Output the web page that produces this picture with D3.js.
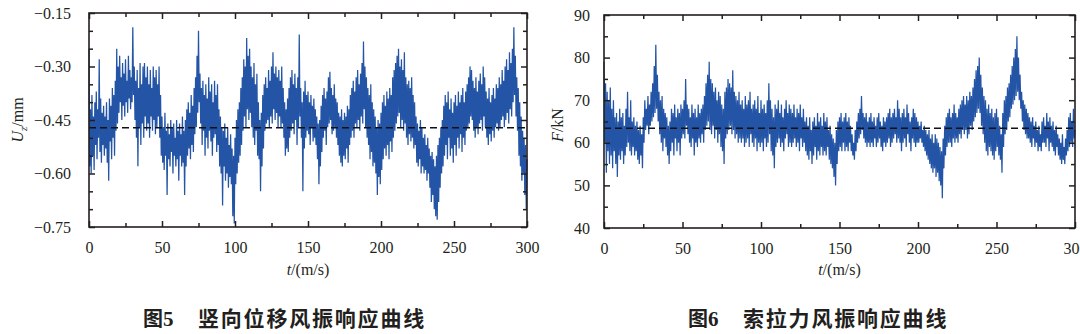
<!DOCTYPE html>
<html>
<head>
<meta charset="utf-8">
<script src="https://cdn.jsdelivr.net/npm/d3@7"></script>
<style>
  html, body { margin: 0; padding: 0; background: #fff; }
  svg { display: block; }
</style>
</head>
<body>
<svg id="fig" width="1080" height="334"></svg>
<script>
// Sampling interval of both records (s)
const dt = 0.5;

// Vertical displacement U_z (mm), two samples per second, t = 0 … 300 s
const dispU = [
  -0.25,-0.58, -0.42,-0.60, -0.38,-0.55, -0.44,-0.59, -0.40,-0.52, -0.37,-0.56, -0.42,-0.50, -0.28,-0.54, -0.39,-0.57, -0.43,-0.52,
  -0.41,-0.55, -0.44,-0.53, -0.40,-0.57, -0.45,-0.62, -0.39,-0.51, -0.41,-0.56, -0.36,-0.50, -0.38,-0.55, -0.34,-0.48, -0.25,-0.46,
  -0.30,-0.43, -0.27,-0.40, -0.33,-0.45, -0.29,-0.41, -0.32,-0.44, -0.28,-0.40, -0.34,-0.43, -0.27,-0.39, -0.31,-0.42, -0.33,-0.40,
  -0.19,-0.38, -0.30,-0.45, -0.34,-0.50, -0.31,-0.58, -0.36,-0.47, -0.29,-0.52, -0.35,-0.46, -0.30,-0.50, -0.29,-0.44, -0.33,-0.48,
  -0.30,-0.46, -0.35,-0.50, -0.31,-0.44, -0.36,-0.48, -0.30,-0.45, -0.33,-0.49, -0.31,-0.47, -0.35,-0.44, -0.30,-0.50, -0.38,-0.55,
  -0.44,-0.57, -0.47,-0.59, -0.43,-0.55, -0.48,-0.66, -0.46,-0.56, -0.49,-0.58, -0.45,-0.54, -0.47,-0.60, -0.46,-0.55, -0.50,-0.58,
  -0.45,-0.56, -0.48,-0.62, -0.46,-0.55, -0.49,-0.58, -0.44,-0.57, -0.48,-0.66, -0.45,-0.58, -0.42,-0.55, -0.40,-0.53, -0.43,-0.56,
  -0.38,-0.52, -0.41,-0.54, -0.36,-0.49, -0.33,-0.47, -0.27,-0.43, -0.20,-0.40, -0.32,-0.46, -0.36,-0.52, -0.34,-0.48, -0.38,-0.55,
  -0.35,-0.50, -0.39,-0.53, -0.33,-0.48, -0.37,-0.51, -0.35,-0.55, -0.40,-0.50, -0.34,-0.49, -0.38,-0.54, -0.35,-0.52, -0.42,-0.58,
  -0.44,-0.60, -0.47,-0.69, -0.48,-0.58, -0.46,-0.62, -0.50,-0.60, -0.47,-0.64, -0.52,-0.61, -0.49,-0.63, -0.53,-0.72, -0.55,-0.74,
  -0.50,-0.63, -0.45,-0.60, -0.42,-0.57, -0.40,-0.55, -0.36,-0.52, -0.33,-0.48, -0.28,-0.44, -0.30,-0.47, -0.22,-0.42, -0.27,-0.45,
  -0.25,-0.43, -0.30,-0.47, -0.33,-0.50, -0.29,-0.52, -0.35,-0.48, -0.32,-0.55, -0.40,-0.56, -0.45,-0.65, -0.43,-0.58, -0.38,-0.53,
  -0.35,-0.48, -0.33,-0.46, -0.36,-0.45, -0.31,-0.47, -0.34,-0.44, -0.30,-0.46, -0.26,-0.42, -0.32,-0.45, -0.30,-0.43, -0.33,-0.47,
  -0.31,-0.44, -0.34,-0.47, -0.30,-0.46, -0.36,-0.50, -0.40,-0.55, -0.42,-0.53, -0.39,-0.54, -0.36,-0.50, -0.33,-0.48, -0.31,-0.46,
  -0.35,-0.49, -0.32,-0.45, -0.36,-0.52, -0.33,-0.47, -0.21,-0.44, -0.36,-0.50, -0.40,-0.65, -0.37,-0.53, -0.34,-0.50, -0.38,-0.48,
  -0.37,-0.49, -0.40,-0.52, -0.38,-0.47, -0.41,-0.51, -0.39,-0.50, -0.42,-0.52, -0.44,-0.56, -0.46,-0.63, -0.45,-0.58, -0.41,-0.54,
  -0.38,-0.50, -0.36,-0.48, -0.39,-0.52, -0.37,-0.47, -0.33,-0.46, -0.315,-0.45, -0.36,-0.49, -0.38,-0.48, -0.35,-0.47, -0.39,-0.50,
  -0.40,-0.52, -0.43,-0.55, -0.44,-0.57, -0.42,-0.58, -0.45,-0.55, -0.43,-0.56, -0.44,-0.53, -0.41,-0.57, -0.42,-0.52, -0.38,-0.50,
  -0.36,-0.48, -0.34,-0.50, -0.37,-0.46, -0.33,-0.47, -0.31,-0.45, -0.35,-0.48, -0.32,-0.44, -0.29,-0.46, -0.23,-0.42, -0.30,-0.47,
  -0.33,-0.50, -0.36,-0.52, -0.38,-0.56, -0.35,-0.54, -0.40,-0.58, -0.42,-0.57, -0.44,-0.60, -0.47,-0.66, -0.45,-0.61, -0.46,-0.63,
  -0.43,-0.59, -0.40,-0.56, -0.38,-0.53, -0.41,-0.55, -0.37,-0.52, -0.39,-0.56, -0.36,-0.51, -0.38,-0.54, -0.33,-0.50, -0.31,-0.48,
  -0.29,-0.46, -0.27,-0.44, -0.25,-0.43, -0.30,-0.47, -0.28,-0.45, -0.31,-0.48, -0.26,-0.46, -0.33,-0.50, -0.35,-0.52, -0.34,-0.49,
  -0.36,-0.51, -0.33,-0.50, -0.38,-0.53, -0.40,-0.52, -0.44,-0.57, -0.46,-0.58, -0.48,-0.56, -0.45,-0.60, -0.47,-0.58, -0.50,-0.60,
  -0.49,-0.59, -0.52,-0.62, -0.50,-0.60, -0.53,-0.64, -0.55,-0.68, -0.54,-0.66, -0.56,-0.70, -0.58,-0.72, -0.55,-0.73, -0.52,-0.68,
  -0.50,-0.64, -0.47,-0.60, -0.45,-0.58, -0.41,-0.55, -0.38,-0.52, -0.40,-0.56, -0.37,-0.50, -0.42,-0.55, -0.39,-0.53, -0.43,-0.57,
  -0.40,-0.52, -0.38,-0.55, -0.41,-0.50, -0.37,-0.53, -0.40,-0.49, -0.38,-0.54, -0.36,-0.50, -0.40,-0.52, -0.37,-0.48, -0.35,-0.47,
  -0.33,-0.46, -0.30,-0.44, -0.31,-0.45, -0.34,-0.48, -0.36,-0.50, -0.33,-0.47, -0.37,-0.49, -0.34,-0.46, -0.32,-0.45, -0.35,-0.48,
  -0.30,-0.44, -0.33,-0.47, -0.37,-0.50, -0.39,-0.52, -0.36,-0.49, -0.40,-0.51, -0.38,-0.48, -0.36,-0.50, -0.39,-0.47, -0.35,-0.46,
  -0.36,-0.48, -0.33,-0.47, -0.35,-0.45, -0.31,-0.44, -0.34,-0.47, -0.30,-0.45, -0.28,-0.43, -0.31,-0.46, -0.26,-0.42, -0.29,-0.44,
  -0.25,-0.40, -0.19,-0.38, -0.27,-0.44, -0.33,-0.48, -0.36,-0.55, -0.40,-0.58, -0.44,-0.62, -0.48,-0.60, -0.50,-0.66, -0.52,-0.70,
  -0.56
];

// Cable tension F (kN), two samples per second, t = 0 … 300 s
const forceF = [
  79,60, 74,53, 72,58, 70,55, 73,57, 68,54, 70,58, 66,55, 67,52, 65,57,
  68,56, 66,58, 67,55, 64,57, 68,59, 72,60, 66,58, 70,57, 65,59, 66,57,
  64,58, 65,56, 63,55, 64,57, 62,54, 66,60, 70,63, 68,64, 71,62, 69,64,
  72,65, 74,66, 78,67, 83,68, 76,65, 72,62, 70,60, 71,58, 68,61, 67,59,
  66,57, 64,55, 65,58, 68,60, 67,57, 69,61, 66,58, 68,60, 67,57, 69,61,
  68,62, 70,61, 75,64, 69,62, 68,60, 66,59, 69,61, 67,57, 68,60, 66,59,
  69,61, 67,60, 68,62, 69,60, 71,63, 74,64, 76,65, 79,63, 75,62, 74,64,
  72,61, 73,63, 70,60, 72,62, 71,59, 69,58, 68,55, 72,61, 73,62, 75,63,
  74,64, 73,62, 77,63, 72,61, 71,62, 70,60, 72,61, 69,60, 70,61, 68,59,
  71,60, 69,61, 70,59, 72,62, 68,60, 69,59, 70,61, 68,58, 71,60, 67,59,
  70,60, 68,58, 69,61, 67,59, 70,60, 74,62, 70,58, 68,57, 66,54, 69,59,
  68,60, 70,61, 67,59, 69,60, 66,58, 68,61, 70,62, 67,59, 69,60, 68,59,
  67,60, 69,61, 66,59, 68,60, 67,58, 69,61, 66,59, 68,60, 65,58, 66,57,
  64,56, 66,58, 63,55, 65,57, 66,59, 64,56, 67,58, 65,57, 66,59, 64,57,
  67,58, 65,57, 66,59, 63,56, 64,55, 62,54, 61,52, 60,50, 63,55, 65,58,
  66,59, 67,58, 65,60, 66,58, 67,59, 65,58, 66,60, 64,58, 62,57, 60,56,
  63,58, 65,60, 67,61, 68,62, 71,63, 67,61, 66,60, 67,59, 65,60, 66,59,
  67,60, 65,59, 66,61, 64,59, 66,60, 67,61, 65,59, 64,58, 66,60, 65,59,
  66,60, 67,61, 68,59, 66,60, 67,61, 68,62, 66,60, 70,61, 68,60, 66,58,
  67,60, 68,61, 66,59, 69,62, 67,60, 65,58, 66,61, 68,60, 67,59, 66,60,
  65,60, 64,61, 65,60, 63,59, 64,58, 63,57, 62,56, 63,55, 61,54, 62,53,
  60,54, 62,52, 61,53, 60,51, 59,50, 58,47, 61,54, 64,57, 66,59, 67,60,
  68,60, 66,59, 67,61, 69,60, 67,61, 66,60, 68,62, 69,61, 70,63, 71,62,
  69,63, 71,61, 70,62, 72,64, 71,63, 73,65, 75,66, 77,67, 78,68, 80,67,
  76,64, 73,62, 71,60, 70,58, 68,57, 69,59, 67,58, 68,57, 66,56, 67,58,
  68,59, 66,57, 64,56, 62,53, 67,59, 70,62, 71,63, 73,65, 74,66, 76,68,
  78,69, 80,70, 82,71, 85,72, 80,70, 76,68, 72,65, 70,63, 69,62, 68,61,
  67,61, 66,60, 65,59, 66,61, 64,59, 65,60, 63,58, 64,59, 62,58, 65,60,
  66,60, 64,59, 67,61, 65,58, 66,60, 64,59, 65,58, 63,57, 64,59, 62,57,
  61,56, 60,55, 62,56, 59,55, 61,57, 63,58, 66,59, 67,60, 65,59, 68,61,
  63
];

// Mean levels (dashed reference lines)
const meanU = -0.472;
const meanF = 63.4;

// Axis ticks
const timeTicks = [0, 50, 100, 150, 200, 250, 300];
const timeMinorTicks = [25, 75, 125, 175, 225, 275];
const uTicks = [-0.15, -0.30, -0.45, -0.60, -0.75];
const uMinorTicks = [-0.20, -0.25, -0.35, -0.40, -0.50, -0.55, -0.65, -0.70];
const fTicks = [40, 50, 60, 70, 80, 90];
const fMinorTicks = [45, 55, 65, 75, 85];

const svg = d3.select("#fig");
const serif = "'Liberation Serif', 'DejaVu Serif', serif";
const cjk = "'Noto Sans CJK SC', sans-serif";
const ink = "#231f20";
const lineBlue = "#2354a6";

function drawPanel(cfg) {
  const { left, right, top, bottom } = cfg.box;
  const x = d3.scaleLinear().domain([0, 300]).range([left, right]);
  const y = d3.scaleLinear().domain(cfg.yDomain).range([bottom, top]);
  const g = svg.append("g");

  // response trace
  const line = d3.line()
    .x((d, i) => x(i * dt))
    .y(d => y(d));
  g.append("path")
    .datum(cfg.values)
    .attr("d", line)
    .attr("fill", "none")
    .attr("stroke", lineBlue)
    .attr("stroke-width", 1.25)
    .attr("stroke-linejoin", "bevel");

  // mean level
  g.append("line")
    .attr("x1", left).attr("x2", right)
    .attr("y1", y(cfg.mean)).attr("y2", y(cfg.mean))
    .attr("stroke", "#111")
    .attr("stroke-width", 1.5)
    .attr("stroke-dasharray", "7,4");

  // inward ticks on all four sides
  const styleAxis = sel => {
    sel.select(".domain").remove();
    sel.selectAll(".tick line").attr("stroke", ink).attr("stroke-width", 1.5);
    sel.selectAll(".tick text")
      .attr("fill", ink)
      .style("font-family", serif)
      .style("font-size", "16px");
  };

  g.append("g").attr("transform", `translate(0,${bottom})`)
    .call(d3.axisBottom(x).tickValues(timeTicks).tickSize(-6).tickPadding(15).tickFormat(d3.format("d")))
    .call(styleAxis);
  g.append("g").attr("transform", `translate(0,${bottom})`)
    .call(d3.axisBottom(x).tickValues(timeMinorTicks).tickSize(-4).tickFormat(""))
    .call(styleAxis);
  g.append("g").attr("transform", `translate(0,${top})`)
    .call(d3.axisTop(x).tickValues(timeTicks).tickSize(-6).tickFormat(""))
    .call(styleAxis);
  g.append("g").attr("transform", `translate(0,${top})`)
    .call(d3.axisTop(x).tickValues(timeMinorTicks).tickSize(-4).tickFormat(""))
    .call(styleAxis);

  g.append("g").attr("transform", `translate(${left},0)`)
    .call(d3.axisLeft(y).tickValues(cfg.yTicks).tickSize(-6).tickPadding(cfg.yPad).tickFormat(cfg.yFormat))
    .call(styleAxis);
  g.append("g").attr("transform", `translate(${left},0)`)
    .call(d3.axisLeft(y).tickValues(cfg.yMinor).tickSize(-4).tickFormat(""))
    .call(styleAxis);
  g.append("g").attr("transform", `translate(${right},0)`)
    .call(d3.axisRight(y).tickValues(cfg.yTicks).tickSize(-6).tickFormat(""))
    .call(styleAxis);
  g.append("g").attr("transform", `translate(${right},0)`)
    .call(d3.axisRight(y).tickValues(cfg.yMinor).tickSize(-4).tickFormat(""))
    .call(styleAxis);

  // frame
  g.append("rect")
    .attr("x", left).attr("y", top)
    .attr("width", right - left).attr("height", bottom - top)
    .attr("fill", "none")
    .attr("stroke", ink)
    .attr("stroke-width", 1.6);

  // x title: t/(m/s)
  const xt = g.append("text")
    .attr("x", (left + right) / 2).attr("y", 275)
    .attr("text-anchor", "middle")
    .attr("fill", ink)
    .style("font-family", serif).style("font-size", "16px");
  xt.append("tspan").attr("font-style", "italic").text("t");
  xt.append("tspan").text("/(m/s)");

  // y title
  const yt = g.append("text")
    .attr("transform", `translate(${cfg.yTitleX},${cfg.yTitleY}) rotate(-90)`)
    .attr("text-anchor", "middle")
    .attr("fill", ink)
    .style("font-family", serif).style("font-size", "16px");
  cfg.yTitle(yt);

  // caption
  const cap = svg.append("text")
    .attr("y", 326)
    .attr("fill", ink)
    .style("font-weight", "bold");
  cap.append("tspan").attr("x", cfg.capX)
    .style("font-family", cjk).style("font-size", "20px").text("图");
  cap.append("tspan")
    .style("font-family", serif).style("font-size", "21px").text(cfg.figNo);
  cap.append("tspan").attr("x", cfg.capX + 55)
    .style("font-family", cjk).style("font-size", "21px")
    .style("letter-spacing", "1.8px")
    .text(cfg.caption);
}

drawPanel({
  box: { left: 89, right: 527, top: 13, bottom: 227 },
  yDomain: [-0.75, -0.15],
  yTicks: uTicks,
  yMinor: uMinorTicks,
  yFormat: d3.format(".2f"),
  yPad: 18,
  values: dispU,
  mean: meanU,
  yTitleX: 23, yTitleY: 120,
  yTitle: t => {
    t.append("tspan").attr("font-style", "italic").text("U");
    t.append("tspan").attr("font-style", "italic").attr("dy", 4).style("font-size", "11px").text("z");
    t.append("tspan").attr("dy", -4).text("/mm");
  },
  capX: 143,
  figNo: "5",
  caption: "竖向位移风振响应曲线"
});

drawPanel({
  box: { left: 604, right: 1075, top: 15, bottom: 228 },
  yDomain: [40, 90],
  yTicks: fTicks,
  yMinor: fMinorTicks,
  yFormat: d3.format("d"),
  yPad: 14,
  values: forceF,
  mean: meanF,
  yTitleX: 563, yTitleY: 125,
  yTitle: t => {
    t.append("tspan").attr("font-style", "italic").text("F");
    t.append("tspan").text("/kN");
  },
  capX: 688,
  figNo: "6",
  caption: "索拉力风振响应曲线"
});
</script>
</body>
</html>
